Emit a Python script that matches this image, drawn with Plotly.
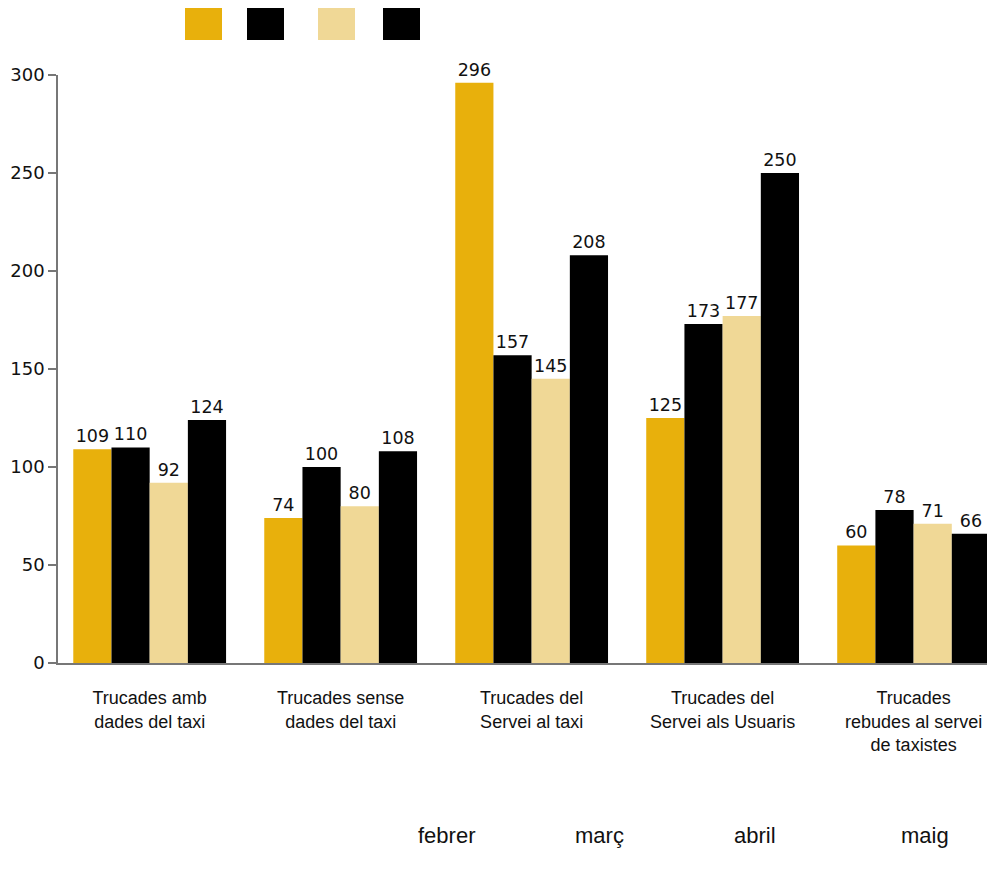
import plotly.graph_objects as go

categories = [
    "Trucades amb<br>dades del taxi",
    "Trucades sense<br>dades del taxi",
    "Trucades del<br>Servei al taxi",
    "Trucades del<br>Servei als Usuaris",
    "Trucades<br>rebudes al servei<br>de taxistes",
]
months = ["febrer", "març", "abril", "maig"]
febrer = [109, 74, 296, 125, 60]
marc = [110, 100, 157, 173, 78]
abril = [92, 80, 145, 177, 71]
maig = [124, 108, 208, 250, 66]
series = [febrer, marc, abril, maig]
colors = ["#E8B00C", "#000000", "#F0D896", "#000000"]
yticks = [0, 50, 100, 150, 200, 250, 300]

fig = go.Figure()
for name, vals, col in zip(months, series, colors):
    fig.add_trace(go.Bar(
        x=list(range(len(categories))), y=vals, name=name,
        marker=dict(color=col, line=dict(width=0)),
        text=[str(v) for v in vals], textposition="outside",
        textfont=dict(family="DejaVu Sans", size=17.5, color="#111"),
        cliponaxis=False,
    ))

fig.update_layout(
    width=982, height=857,
    margin=dict(l=50, r=0, t=67, b=202),
    paper_bgcolor="white", plot_bgcolor="white",
    barmode="group", bargap=0.2, bargroupgap=0,
    showlegend=False,
    font=dict(family="Liberation Sans, Arial", color="#111"),
)
fig.update_xaxes(
    range=[-0.48, 4.4],
    tickmode="array", tickvals=list(range(len(categories))), ticktext=categories,
    tickfont=dict(family="Liberation Sans Narrow, Liberation Sans", size=18, color="#111"),
    showline=True, linecolor="#777", linewidth=1.5,
    ticks="", showgrid=False, zeroline=False,
    ticklabelstandoff=18,
)
fig.update_yaxes(
    range=[0, 300], tickvals=yticks,
    tickfont=dict(family="DejaVu Sans", size=18, color="#111"),
    showline=True, linecolor="#777", linewidth=1.5,
    ticks="outside", ticklen=8, tickcolor="#777", tickwidth=1.5,
    showgrid=False, zeroline=False,
)

# legend squares at top
sq_x = [185, 247, 318, 383]
for x0, col in zip(sq_x, colors):
    fig.add_shape(type="rect", xref="paper", yref="paper",
                  x0=(x0 - 58) / 932, x1=(x0 + 37 - 58) / 932,
                  y0=(663 - 40) / 588, y1=(663 - 5) / 588,
                  fillcolor=col, line=dict(width=0))

# month names at bottom
mx = [446, 599, 755, 925]
for x, m in zip(mx, months):
    fig.add_annotation(text=m, xref="paper", yref="paper",
                       x=(x - 58) / 932, y=(663 - 835) / 588,
                       xanchor="center", yanchor="middle",
                       showarrow=False,
                       font=dict(family="Liberation Sans Narrow, Liberation Sans", size=22, color="#111"))

fig.write_html("out.html")
